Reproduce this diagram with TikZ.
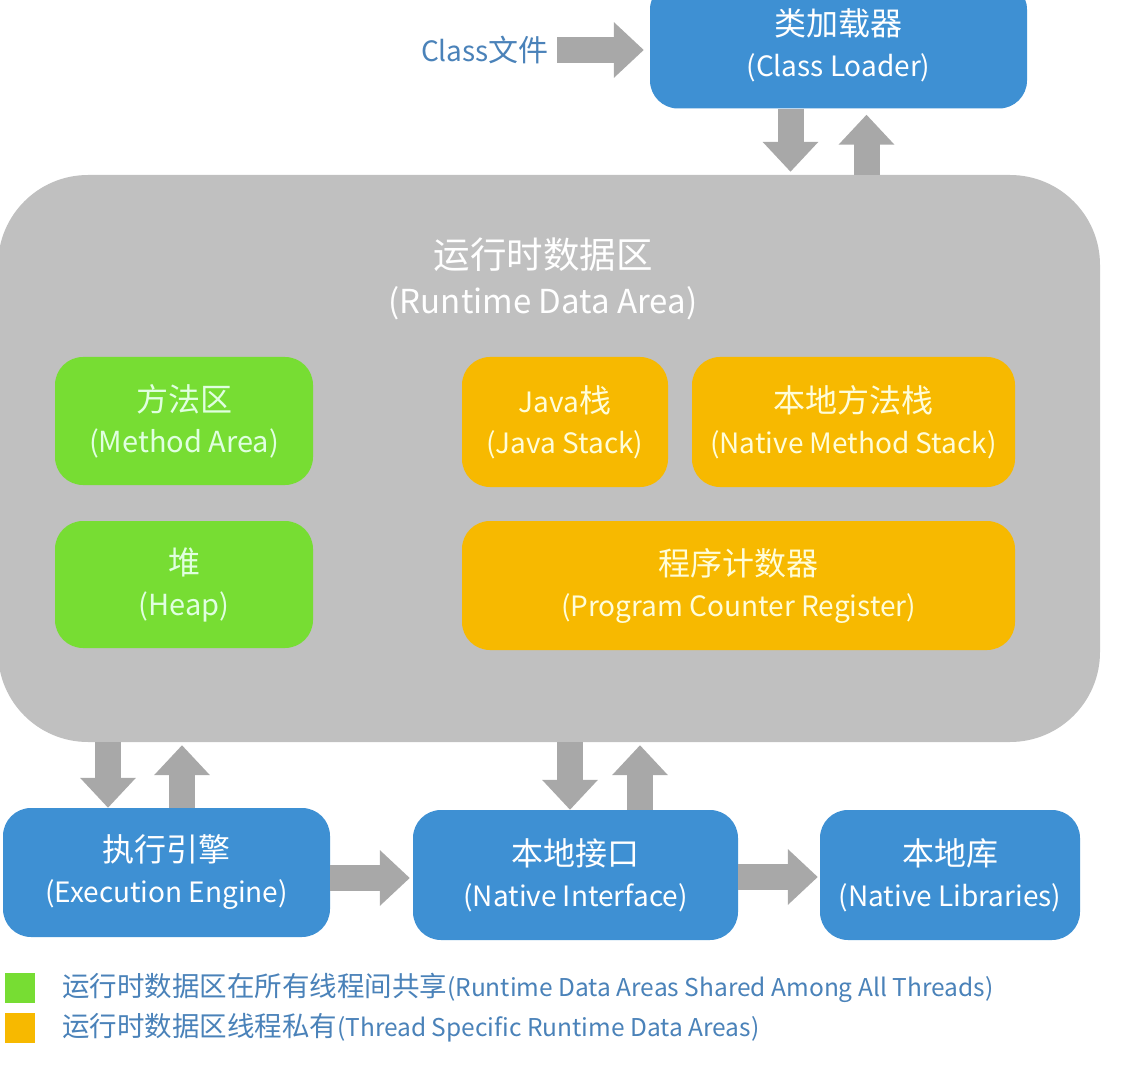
\documentclass[tikz,border=0pt]{standalone}
\usepackage{fontspec}
\setmainfont{Noto Sans CJK SC}
\usetikzlibrary{arrows.meta}
\definecolor{boxblue}{HTML}{3E90D3}
\definecolor{areagray}{HTML}{C0C0C0}
\definecolor{arrowgray}{HTML}{A8A8A8}
\definecolor{sharedgreen}{HTML}{77DD33}
\definecolor{privateorange}{HTML}{F7B900}
\definecolor{labelblue}{HTML}{4A82B9}
\newcommand\zhline[1]{{\fontsize{32}{40}\selectfont #1}}
\newcommand\zhlegend[1]{{\fontsize{27.5}{30}\selectfont #1}}
\tikzset{
  unitbox/.style={rounded corners=28pt, align=center, inner sep=0pt, font=\fontsize{28}{41}\selectfont},
  bluebox/.style={unitbox, fill=boxblue, text=white},
  greenbox/.style={unitbox, fill=sharedgreen, text=green!12!white, font=\fontsize{29}{41}\selectfont},
  orangebox/.style={unitbox, fill=privateorange, text=yellow!15!white},
  blockarrow/.style={draw=arrowgray, line width=26pt, -{Triangle[length=30pt,width=54pt]}},
  legendbox/.style={fill=#1, minimum size=30pt, inner sep=0pt},
  legendtext/.style={anchor=west, text=labelblue, inner sep=0pt, font=\fontsize{24.5}{30}\selectfont},
}
\begin{document}
\begin{tikzpicture}[x=1pt,y=-1pt]
\clip (0,0) rectangle (1128,1067);
\fill[white] (0,0) rectangle (1128,1067);

\node[bluebox, minimum width=377pt, minimum height=127pt] (loader) at (838.5,45) {\zhline{类加载器}\\(Class Loader)};
\node[text=labelblue, font=\fontsize{28}{34}\selectfont, inner sep=0pt] (clsfile) at (485,50) {Class{\fontsize{30}{34}\selectfont 文件}};

\node[fill=areagray, rounded corners=90pt, minimum width=1102pt, minimum height=567pt] (rda) at (549,458.5) {};
\node[text=white, align=center, font=\fontsize{33}{45}\selectfont] (rdatitle) at (543,279) {{\fontsize{36.5}{45}\selectfont 运行时数据区}\\(Runtime Data Area)};

\node[greenbox, minimum width=258pt, minimum height=128pt] (method) at (184,421) {\zhline{方法区}\\(Method Area)};
\node[greenbox, minimum width=258pt, minimum height=127pt] (heap) at (184,584.5) {\zhline{堆}\\(Heap)};
\node[orangebox, minimum width=206pt, minimum height=130pt] (jstack) at (565,422) {Java\zhline{栈}\\(Java Stack)};
\node[orangebox, minimum width=323pt, minimum height=130pt] (nstack) at (853.5,422) {\zhline{本地方法栈}\\(Native Method Stack)};
\node[orangebox, minimum width=553pt, minimum height=129pt] (pcreg) at (738.5,585.5) {\zhline{程序计数器}\\(Program Counter Register)};

\node[bluebox, minimum width=327pt, minimum height=129pt] (engine) at (166.5,872.5) {\zhline{执行引擎}\\(Execution Engine)};
\node[bluebox, minimum width=325pt, minimum height=130pt] (nif) at (575.5,875) {\zhline{本地接口}\\(Native Interface)};
\node[bluebox, minimum width=260pt, minimum height=130pt] (nlib) at (950,875) {\zhline{本地库}\\(Native Libraries)};

% arrows
\draw[blockarrow, shorten <=8pt, shorten >=6pt] (clsfile.east) -- (clsfile.east -| loader.west);
\path ([xshift=-48pt]loader.south) coordinate (ldown) ([xshift=28pt]loader.south) coordinate (lup);
\draw[blockarrow, shorten >=3pt] (ldown) -- (ldown |- rda.north);
\draw[blockarrow, shorten >=6pt] (lup |- rda.north) -- (lup);
\path ([xshift=-58.5pt]engine.north) coordinate (edown) ([xshift=15.5pt]engine.north) coordinate (eup);
\draw[blockarrow] (edown |- rda.south) -- (edown);
\draw[blockarrow, shorten >=3pt] (eup) -- (eup |- rda.south);
\path ([xshift=-5.5pt]nif.north) coordinate (ndown) ([xshift=64.5pt]nif.north) coordinate (nup);
\draw[blockarrow] (ndown |- rda.south) -- (ndown);
\draw[blockarrow, shorten >=3pt] (nup) -- (nup |- rda.south);
\path ([yshift=-5.5pt]engine.east) coordinate (e2n) ([yshift=-2pt]nif.east) coordinate (n2l);
\draw[blockarrow, shorten >=3pt] (e2n) -- (e2n -| nif.west);
\draw[blockarrow, shorten >=2pt] (n2l) -- (n2l -| nlib.west);

% legend
\node[legendbox=sharedgreen] (keyshared) at (20,988) {};
\node[legendbox=privateorange] (keyprivate) at (20,1028) {};
\node[legendtext] (txtshared) at (62,988) {\zhlegend{运行时数据区在所有线程间共享}(Runtime Data Areas Shared Among All Threads)};
\node[legendtext] (txtprivate) at (62,1028) {\zhlegend{运行时数据区线程私有}(Thread Specific Runtime Data Areas)};
\end{tikzpicture}
\end{document}
